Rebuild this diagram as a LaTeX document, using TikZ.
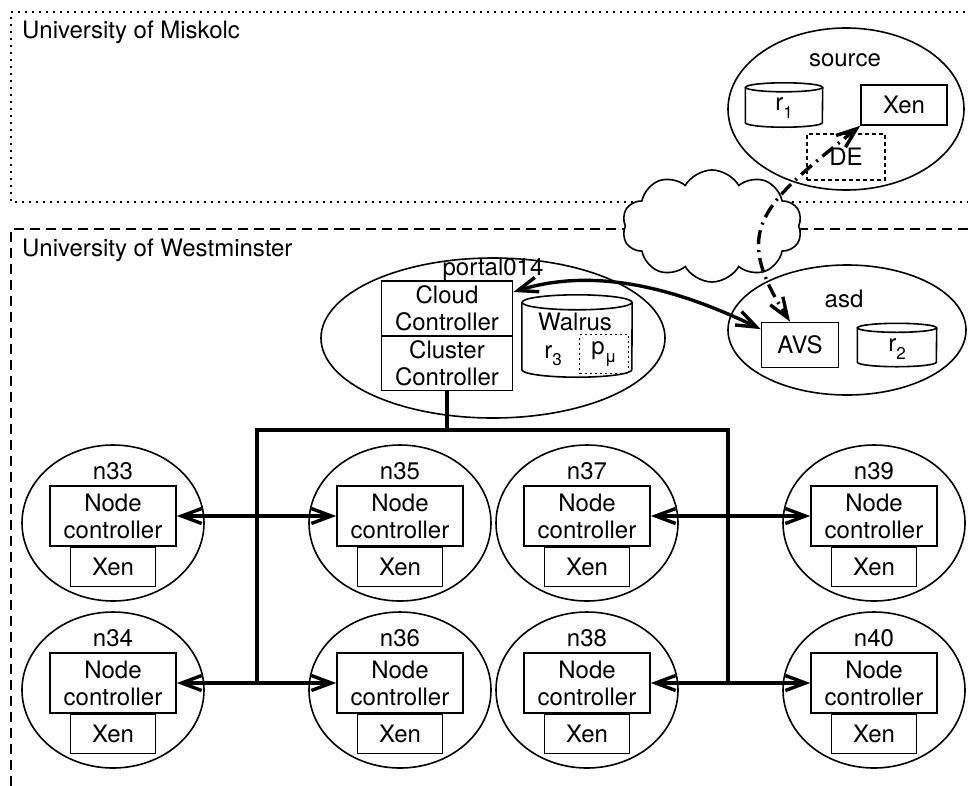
\documentclass[tikz,border=0pt]{standalone}
\usepackage{fontspec}
\setmainfont{TeX Gyre Heros}
\usetikzlibrary{shapes.geometric,shapes.symbols,arrows.meta}
\newcommand\mysub[1]{\raisebox{-0.3em}{\fontsize{17}{17}\selectfont #1}}
\newcommand\drawcyl[3]{%
  \draw[thinline] ([yshift=-#2pt]#1.north west) -- ([yshift=#2pt]#1.south west)
     arc[start angle=180,end angle=360,x radius=#3pt,y radius=#2pt]
     -- ([yshift=-#2pt]#1.north east);
  \draw[thinline] ([yshift=-#2pt]#1.north) ellipse[x radius=#3pt,y radius=#2pt];}
\begin{document}
\begin{tikzpicture}[x=1pt,y=-1pt,
  every node/.style={font=\fontsize{24}{27}\selectfont, inner sep=0pt},
  thinline/.style={line width=1.6pt},
  ell/.style={ellipse, draw, thinline},
  box/.style={rectangle, draw, thinline, align=center},
  busline/.style={line width=3.8pt, line join=miter},
  tipb/.tip={Straight Barb[length=20pt,width=15pt]},
  conn/.style={line width=3.4pt, tipb-tipb},
  lbl/.style={anchor=base},
]
\useasboundingbox (0,0) rectangle (968,785);
\begin{scope}
\clip (0,0) rectangle (968,785);
\draw[line width=1.8pt, dash pattern=on 1.8pt off 5.2pt] (1000,12) -- (11,12) -- (11,202) -- (1000,202);
\draw[line width=1.4pt, dash pattern=on 10pt off 6pt] (1000,229) -- (11,229) -- (11,800);
\end{scope}
\node[anchor=base west] (umis) at (22,38) {University of Miskolc};
\node[anchor=base west] (uwes) at (22,256) {University of Westminster};

% cloud
\node[cloud, cloud puffs=10, cloud puff arc=120, aspect=1.6, draw, fill=white, thinline,
      minimum width=180, minimum height=112] (net) at (712,226) {};

% source
\node[ell, minimum width=236, minimum height=162] (src) at (846,109) {};
\node[lbl] (srcl) at (845,66) {source};
\node[minimum width=77, minimum height=44] (r1) at (784,105) {};
\drawcyl{r1}{4.5}{38.5}
\node (r1t) at (784,108) {r\mysub{1}};
\node[box, minimum width=86, minimum height=40] (xsrc) at (904,105) {Xen};
\node[box, dash pattern=on 4pt off 3pt, minimum width=78, minimum height=46] (de) at (846,157) {DE};

% asd
\node[ell, minimum width=238, minimum height=130] (asd) at (847,330) {};
\node[lbl] (asdl) at (844,307) {asd};
\node[box, minimum width=77, minimum height=45] (avs) at (800,345) {AVS};
\node[minimum width=79, minimum height=43] (r2) at (897,345) {};
\drawcyl{r2}{4.5}{39.5}
\node (r2t) at (897,349) {r\mysub{2}};

% portal014
\node[ell, minimum width=344, minimum height=160] (portal) at (493,338) {};
\node[lbl] (portall) at (493,275) {portal014};
\node[box, minimum width=131, minimum height=55] (cc) at (447,308.5) {Cloud\\Controller};
\node[box, minimum width=131, minimum height=55] (clc) at (447,363) {Cluster\\Controller};
\node[minimum width=110, minimum height=82] (walrus) at (577,336) {};
\drawcyl{walrus}{7.5}{55}
\node (walrust) at (575,322) {Walrus};
\node (r3t) at (553,356) {r\mysub{3}};
\node[box, dash pattern=on 2pt off 3pt, minimum width=49, minimum height=39] (pmu) at (604,354) {p\mysub{μ}};

% nodes
\foreach \n/\x/\y in {33/113/523, 35/400/523, 37/587/523, 39/874/523,
                      34/113/690, 36/400/690, 38/587/690, 40/874/690}{
  \node[ell, minimum width=182, minimum height=156] (n\n) at (\x,\y) {};
  \node[lbl] (n\n l) at (\x,\y-44) {n\n};
  \node[box, minimum width=126, minimum height=60] (nc\n) at (\x,\y-7) {Node\\controller};
  \node[box, minimum width=85, minimum height=39, anchor=north] (xen\n) at (nc\n.south) {Xen};
}

% bus
\coordinate (busL) at (257,430);
\coordinate (busR) at (728,430);
\draw[busline] (busL |- nc34.east) -- (busL) -- (busR) -- (busR |- nc38.east);
\draw[busline] (clc.south) -- (clc.south |- busL);
\draw[conn] (nc33.east) -- (nc35.west);
\draw[conn] (nc34.east) -- (nc36.west);
\draw[conn] (nc37.east) -- (nc39.west);
\draw[conn] (nc38.east) -- (nc40.west);

% wide-area links
\draw[conn] (cc.14) .. controls (590,268) and (670,285) .. (avs.158);
\draw[conn, dash pattern=on 14pt off 6pt on 2pt off 6pt]
  (xsrc.south west) .. controls (760,206) and (731,230) .. ([xshift=-10pt]avs.north);
\end{tikzpicture}
\end{document}
